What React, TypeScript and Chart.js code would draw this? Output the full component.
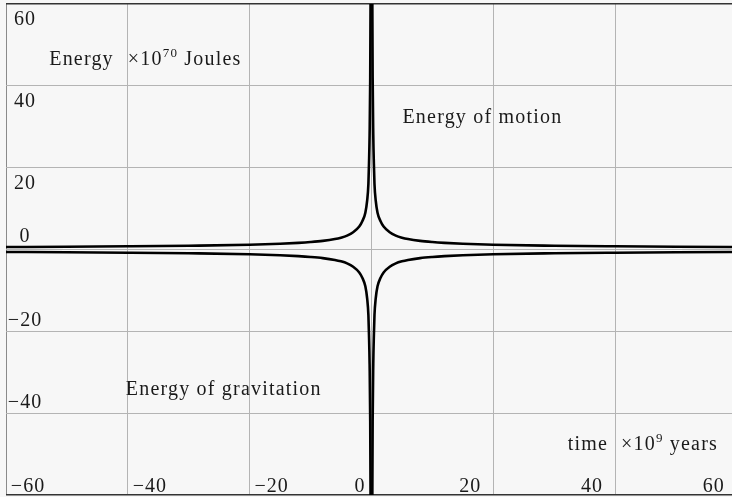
import React, { useEffect, useRef } from 'react';
import { Chart, registerables } from 'chart.js';

Chart.register(...registerables);

// ---- data ----
const TIME_BEFORE = [-60, -50, -40, -30, -20, -15, -12, -10, -8, -6, -5, -4, -3, -2, -1.5, -1, -0.7, -0.5, -0.4, -0.3, -0.2, -0.12];
const TIME_AFTER = [0.12, 0.2, 0.3, 0.4, 0.5, 0.7, 1, 1.5, 2, 3, 4, 5, 6, 8, 10, 12, 15, 20, 30, 40, 50, 60];
const MOTION_BEFORE = [0.6, 0.68, 0.78, 0.92, 1.15, 1.4, 1.62, 1.82, 2.1, 2.55, 2.9, 3.4, 4.2, 5.6, 6.9, 9.0, 12, 16, 21, 28, 42, 70];
const MOTION_AFTER = [70, 42, 28, 21, 16, 12, 9.0, 6.9, 5.6, 4.2, 3.4, 2.9, 2.55, 2.1, 1.82, 1.62, 1.4, 1.15, 0.92, 0.78, 0.68, 0.6];
const GRAVITATION_BEFORE = [-0.6, -0.68, -0.78, -0.92, -1.15, -1.4, -1.62, -1.82, -2.1, -2.55, -2.9, -3.4, -4.2, -5.6, -6.9, -9.0, -12, -16, -21, -28, -42, -70];
const GRAVITATION_AFTER = [-70, -42, -28, -21, -16, -12, -9.0, -6.9, -5.6, -4.2, -3.4, -2.9, -2.55, -2.1, -1.82, -1.62, -1.4, -1.15, -0.92, -0.78, -0.68, -0.6];

const X_TICKS = [-60, -40, -20, 0, 20, 40, 60];
const X_TICK_LABELS = ['\u221260', '\u221240', '\u221220', '0', '20', '40', '60'];
const Y_TICKS = [60, 40, 20, 0, -20, -40, -60];
const Y_TICK_LABELS = ['60', '40', '20', '0', '\u221220', '\u221240', ''];

const X_MIN = -60;
const X_MAX = 59.2;
const Y_MIN = -60;
const Y_MAX = 60;

const FONT = '20px "Liberation Serif", "Times New Roman", serif';
const SUP_FONT = '13px "Liberation Serif", "Times New Roman", serif';
const TEXT_COLOR = '#1a1a1a';

function pts(xs: number[], ys: number[]) {
  return xs.map((x, i) => ({ x, y: ys[i] }));
}

const bgPlugin = {
  id: 'bg',
  beforeDraw(chart: any) {
    const { ctx, width, height } = chart;
    ctx.save();
    ctx.fillStyle = '#f7f7f7';
    ctx.fillRect(0, 0, width, height);
    ctx.restore();
  },
};

const textPlugin = {
  id: 'texts',
  afterDraw(chart: any) {
    const { ctx } = chart;
    const xs = chart.scales.x;
    const ys = chart.scales.y;
    const X = (v: number) => xs.getPixelForValue(v);
    const Y = (v: number) => ys.getPixelForValue(v);
    ctx.save();
    ctx.fillStyle = TEXT_COLOR;
    ctx.font = FONT;
    (ctx as any).letterSpacing = '1px';
    ctx.textBaseline = 'alphabetic';

    // x tick labels
    ctx.textAlign = 'center';
    X_TICKS.forEach((v, i) => {
      const px = X(v);
      const cx = v < 0 ? px + 22 : v === 0 ? px - 11.5 : px - 23;
      ctx.fillText(X_TICK_LABELS[i], cx, Y(Y_MIN) - 3);
    });
    // y tick labels
    Y_TICKS.forEach((v, i) => {
      if (!Y_TICK_LABELS[i]) return;
      const py = Y(v);
      const by = v > 0 ? py + 21 : v === 0 ? py - 8 : py - 5;
      ctx.fillText(Y_TICK_LABELS[i], X(X_MIN) + 19, by);
    });

    (ctx as any).letterSpacing = '1.2px';
    const drawSup = (x0: number, y0: number, pre: string, sup: string, post: string) => {
      ctx.textAlign = 'left';
      ctx.font = FONT;
      ctx.fillText(pre, x0, y0);
      let x = x0 + ctx.measureText(pre).width;
      ctx.font = SUP_FONT;
      ctx.fillText(sup, x, y0 - 8);
      x += ctx.measureText(sup).width;
      ctx.font = FONT;
      ctx.fillText(post, x, y0);
    };
    // y axis title
    ctx.textAlign = 'right';
    ctx.fillText('Energy', X(-40) - 14, Y(40) - 21);
    drawSup(X(-40), Y(40) - 21, '\u00d710', '70', ' Joules');

    // x axis title
    ctx.textAlign = 'right';
    ctx.font = FONT;
    ctx.fillText('time', X(40) - 7, Y(-40) + 37);
    drawSup(X(40) + 6, Y(-40) + 37, '\u00d710', '9', ' years');

    // annotations
    ctx.textAlign = 'left';
    ctx.font = FONT;
    ctx.fillText('Energy of motion', X(0) + 31, Y(40) + 37);
    ctx.fillText('Energy of gravitation', X(-40) - 2, Y(-40) - 18);
    ctx.restore();
  },
};

export default function App() {
  const ref = useRef<HTMLCanvasElement | null>(null);
  useEffect(() => {
    if (!ref.current) return;
    const lineStyle = {
      borderColor: '#000',
      borderWidth: 2.6,
      pointRadius: 0,
      cubicInterpolationMode: 'monotone' as const,
      clip: 0,
    };
    const chart = new Chart(ref.current, {
      type: 'line',
      data: {
        datasets: [
          { label: 'Energy of motion (before)', data: pts(TIME_BEFORE, MOTION_BEFORE), ...lineStyle },
          { label: 'Energy of motion (after)', data: pts(TIME_AFTER, MOTION_AFTER), ...lineStyle },
          { label: 'Energy of gravitation (before)', data: pts(TIME_BEFORE, GRAVITATION_BEFORE), ...lineStyle },
          { label: 'Energy of gravitation (after)', data: pts(TIME_AFTER, GRAVITATION_AFTER), ...lineStyle },
        ],
      },
      options: {
        responsive: false,
        animation: false,
        layout: { padding: { left: 6, top: 4, right: 0, bottom: 2 } },
        plugins: { legend: { display: false }, tooltip: { enabled: false } },
        scales: {
          x: {
            type: 'linear',
            min: X_MIN,
            max: X_MAX,
            afterBuildTicks: (s: any) => {
              s.ticks = X_TICKS.filter((v) => v >= s.min && v <= s.max).map((v) => ({ value: v }));
            },
            ticks: { display: false },
            border: { display: false },
            grid: {
              drawTicks: false,
              color: (c: any) => (c.tick && c.tick.value === X_MIN ? '#8a8a8a' : '#b4b4b4'),
              lineWidth: 1,
            },
          },
          y: {
            type: 'linear',
            min: Y_MIN,
            max: Y_MAX,
            afterBuildTicks: (s: any) => {
              s.ticks = Y_TICKS.map((v) => ({ value: v }));
            },
            ticks: { display: false },
            border: { display: false },
            grid: {
              drawTicks: false,
              color: (c: any) => (c.tick && (c.tick.value === Y_MAX || c.tick.value === Y_MIN) ? '#333' : '#b4b4b4'),
              lineWidth: (c: any) => (c.tick && (c.tick.value === Y_MAX || c.tick.value === Y_MIN) ? 1.6 : 1),
            },
          },
        },
      },
      plugins: [bgPlugin, textPlugin],
    });
    return () => chart.destroy();
  }, []);
  return (
    <div style={{ position: 'fixed', left: 0, top: 0, width: 732, height: 497, background: '#f7f7f7' }}>
      <canvas ref={ref} width={732} height={497} style={{ display: 'block' }} />
    </div>
  );
}
